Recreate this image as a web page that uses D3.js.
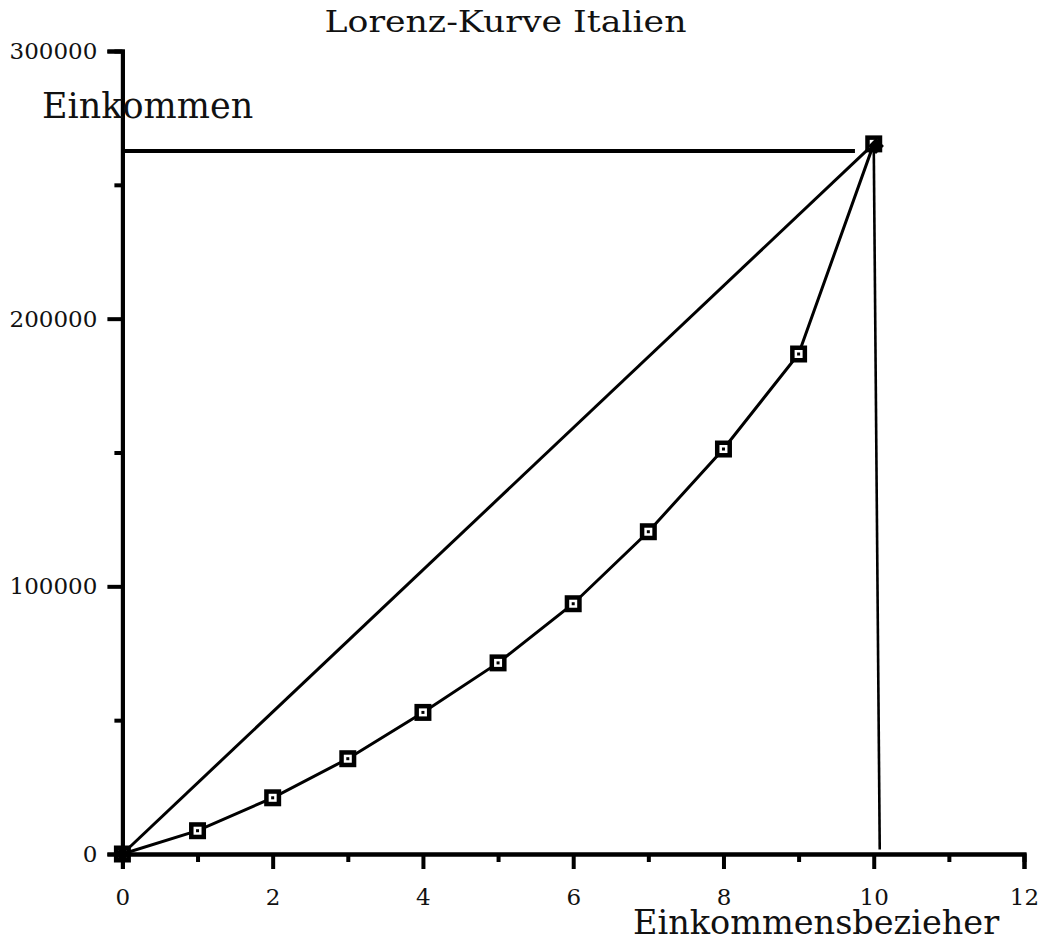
<!DOCTYPE html>
<html>
<head>
<meta charset="utf-8">
<script src="https://cdn.jsdelivr.net/npm/d3@7"></script>
<style>
  html, body { margin: 0; padding: 0; background: #fff; }
  svg { display: block; }
  text { font-family: "DejaVu Serif", "Liberation Serif", serif; fill: #111; }
</style>
</head>
<body>
<svg id="chart" width="1040" height="938"></svg>
<script>
// Lorenz curve for Italy: cumulative income over income deciles
const deciles = [0, 1, 2, 3, 4, 5, 6, 7, 8, 9, 10];
const cumIncome = [0, 8700, 21000, 35600, 52900, 71400, 93500, 120400, 151300, 186800, 265300];

// line of equal distribution and its end markers
const equalityX = [0, 10];
const equalityY = [0, 265300];
const equalityMarkX = [0, 10.03];
const equalityMarkY = [0, 264500];

// total-income guide lines
const totalLineX = [0, 9.75];
const totalLineY = [262600, 262600];
const dropLineX = [10, 10.08];
const dropLineY = [265300, 1700];

const xMajor = [0, 2, 4, 6, 8, 10, 12];
const xMinor = [1, 3, 5, 7, 9, 11];
const yMajor = [0, 100000, 200000, 300000];
const yMinor = [50000, 150000, 250000];

const titleText = "Lorenz-Kurve Italien";
const yTitle = "Einkommen";
const xTitle = "Einkommensbezieher";

const svg = d3.select("#chart");
const x = d3.scaleLinear().domain([0, 12]).range([122.4, 1024]);
const y = d3.scaleLinear().domain([0, 300000]).range([854, 51]);

// axes
function styleAxis(g) {
  g.select(".domain").attr("stroke", "#000").attr("stroke-width", 4);
  g.selectAll(".tick line").attr("stroke", "#000").attr("stroke-width", 4);
  g.selectAll(".tick text").attr("font-family", "DejaVu Serif, serif").attr("font-size", 23).attr("fill", "#222");
}
const xAxisMinor = svg.append("g").attr("transform", `translate(0,${y(0)})`)
  .call(d3.axisBottom(x).tickValues(xMinor).tickSize(8).tickFormat(""));
styleAxis(xAxisMinor);
const xAxis = svg.append("g").attr("transform", `translate(0,${y(0)})`)
  .call(d3.axisBottom(x).tickValues(xMajor).tickSize(15).tickPadding(20).tickFormat(d3.format("d")));
styleAxis(xAxis);

const yAxisMinor = svg.append("g").attr("transform", `translate(${x(0)},0)`)
  .call(d3.axisLeft(y).tickValues(yMinor).tickSize(8).tickFormat(""));
styleAxis(yAxisMinor);
const yAxis = svg.append("g").attr("transform", `translate(${x(0)},0)`)
  .call(d3.axisLeft(y).tickValues(yMajor).tickSize(15).tickPadding(10).tickFormat(d3.format("d")));
styleAxis(yAxis);

// lines
const line = d3.line().x(d => x(d[0])).y(d => y(d[1]));
function drawLine(xs, ys, w) {
  svg.append("path")
    .datum(xs.map((v, i) => [v, ys[i]]))
    .attr("d", line)
    .attr("fill", "none")
    .attr("stroke", "#000")
    .attr("stroke-width", w);
}
drawLine(totalLineX, totalLineY, 4);
drawLine(dropLineX, dropLineY, 2.6);
drawLine(equalityX, equalityY, 3);
drawLine(deciles, cumIncome, 3);

// square markers of the Lorenz curve
const pts = deciles.map((v, i) => [x(v), y(cumIncome[i])]);
const mk = svg.append("g").selectAll("g").data(pts).join("g")
  .attr("transform", d => `translate(${d[0]},${d[1]})`);
mk.append("rect").attr("x", -8.5).attr("y", -8.5).attr("width", 17).attr("height", 17).attr("fill", "#000");
mk.append("rect").attr("x", -4).attr("y", -4).attr("width", 8).attr("height", 8).attr("fill", "#fff");
mk.append("rect").attr("x", -1.5).attr("y", -1.5).attr("width", 3).attr("height", 3).attr("fill", "#000");

// diamond markers of the equality line
const diamond = d3.symbol().type(d3.symbolDiamond2).size(160);
svg.append("g").selectAll("path")
  .data(equalityMarkX.map((v, i) => [x(v), y(equalityMarkY[i])]))
  .join("path")
  .attr("d", diamond)
  .attr("transform", d => `translate(${d[0]},${d[1]})`)
  .attr("fill", "#000");

// titles
svg.append("text").attr("x", 505.5).attr("y", 32).attr("text-anchor", "middle")
  .attr("font-size", 29).attr("textLength", 362).attr("lengthAdjust", "spacingAndGlyphs")
  .text(titleText);
svg.append("text").attr("x", 42).attr("y", 118).attr("font-size", 35).text(yTitle);
svg.append("text").attr("x", 633).attr("y", 934).attr("font-size", 33.5).text(xTitle);
</script>
</body>
</html>
